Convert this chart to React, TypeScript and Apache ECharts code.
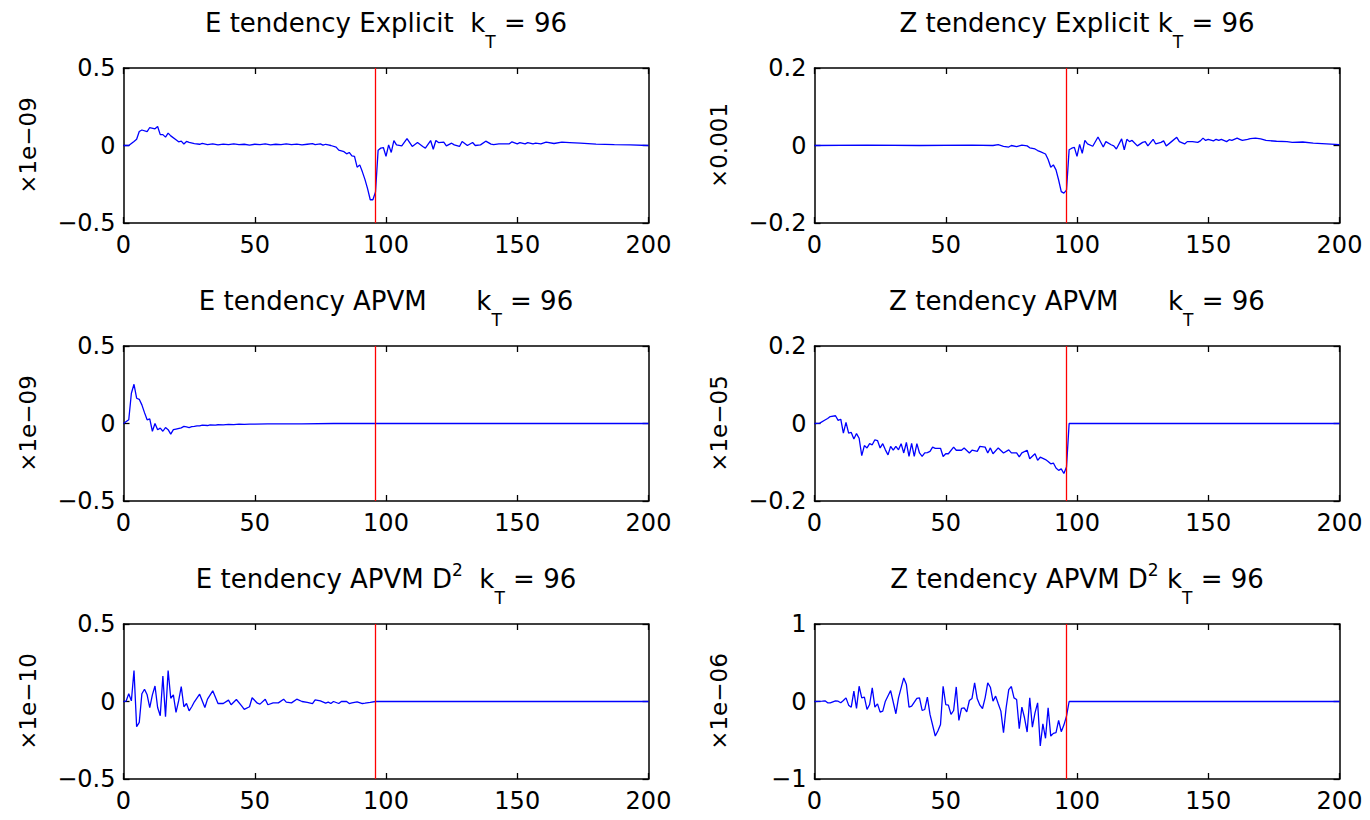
import React, { useEffect, useRef } from "react";
import * as echarts from "echarts";

const kT = 96;

const eExplicit: [number, number][] = [
  [0, 0], [2, 0], [4, 0.026], [5, 0.04], [6, 0.09], [7, 0.1], [9, 0.09], [10, 0.116], [12, 0.108], [13, 0.123],
  [14, 0.07], [15, 0.07], [16, 0.054], [17, 0.08], [18, 0.062], [20, 0.037], [21, 0.024], [22, 0.028], [23, 0.01],
  [24, 0.026], [25, 0.02], [27, 0.012], [29, 0.008], [30, 0.013], [32, 0.006], [34, 0.01], [36, 0.004], [38, 0.009],
  [40, 0.005], [42, 0.01], [44, 0.006], [46, 0.008], [48, 0.003], [50, 0.008], [52, 0.006], [54, 0.01], [56, 0.004],
  [58, 0.008], [60, 0.005], [62, 0.01], [64, 0.006], [66, 0.009], [68, 0.004], [70, 0.008], [72, 0.012], [73, 0.006],
  [75, 0.01], [76, 0.002], [77, 0.008], [78, 0.004], [79, 0], [81, -0.01], [82, -0.03], [84, -0.04], [85, -0.054],
  [86, -0.045], [87, -0.067], [88, -0.07], [89, -0.14], [90, -0.125], [91, -0.17], [92, -0.22], [93, -0.28],
  [94, -0.35], [95, -0.35], [96, -0.3], [97, -0.03], [98, -0.017], [99, -0.013], [100, -0.07], [101, 0.004],
  [102, -0.045], [103, 0.032], [104, 0.004], [106, -0.002], [108, 0.045], [110, -0.006], [112, 0.019], [114, -0.006],
  [115, -0.017], [117, 0.032], [118, -0.024], [119, 0.032], [120, 0.019], [122, 0.022], [123, -0.002], [125, 0.015],
  [126, 0.004], [128, -0.006], [129, 0.026], [131, 0], [133, 0.019], [134, 0], [136, 0.004], [138, 0.028],
  [140, 0.009], [141, 0.006], [143, 0.011], [145, 0.011], [147, 0.011], [148, 0.024], [150, 0.011], [151, 0.019],
  [153, 0.011], [154, 0.019], [156, 0.011], [157, 0.015], [159, 0.011], [161, 0.022], [164, 0.013], [167, 0.022],
  [170, 0.019], [174, 0.015], [180, 0.009], [187, 0.006], [193, 0.004], [200, 0],
];

const zExplicit: [number, number][] = [
  [0, 0], [20, 0.001], [40, 0], [60, 0.001], [68, 0], [70, 0.002], [72, -0.002], [74, -0.004], [75, 0], [77, -0.003],
  [79, 0.001], [81, -0.001], [82, -0.006], [84, -0.009], [85, -0.013], [86, -0.016], [88, -0.022], [89, -0.036],
  [90, -0.056], [91, -0.05], [92, -0.063], [93, -0.089], [94, -0.119], [95, -0.123], [96, -0.115], [97, -0.011],
  [98, -0.007], [99, -0.005], [100, -0.028], [101, 0.003], [102, -0.02], [103, 0.013], [104, 0.004], [106, -0.002],
  [108, 0.022], [110, -0.004], [111, 0.01], [113, 0.002], [114, -0.001], [115, -0.009], [117, 0.017], [118, -0.011],
  [119, 0.016], [120, 0.01], [121, 0.013], [123, -0.001], [125, 0.008], [126, 0.01], [127, -0.001], [129, 0.016],
  [130, 0.004], [132, 0.008], [133, 0.012], [134, -0.001], [136, 0.01], [138, 0.021], [139, 0.01], [141, 0.004],
  [142, 0.01], [144, 0.01], [146, 0.008], [147, 0.012], [148, 0.019], [149, 0.013], [150, 0.016], [152, 0.012],
  [153, 0.016], [154, 0.013], [155, 0.016], [157, 0.01], [158, 0.015], [159, 0.013], [161, 0.019], [162, 0.016],
  [163, 0.013], [165, 0.016], [166, 0.018], [168, 0.019], [170, 0.017], [172, 0.013], [176, 0.011], [180, 0.01],
  [182, 0.008], [186, 0.009], [190, 0.006], [195, 0.004], [200, 0.002],
];

const eApvm: [number, number][] = [
  [0, 0], [2, 0.024], [3, 0.195], [4, 0.253], [5, 0.163], [6, 0.156], [7, 0.12], [8, 0.07], [9, 0.024], [10, 0.03],
  [11, -0.05], [12, 0], [13, -0.04], [14, -0.03], [15, -0.05], [16, -0.026], [17, -0.04], [18, -0.068], [19, -0.04],
  [20, -0.036], [22, -0.028], [23, -0.019], [24, -0.022], [25, -0.026], [26, -0.02], [27, -0.019], [28, -0.015],
  [29, -0.015], [30, -0.011], [32, -0.013], [33, -0.009], [35, -0.011], [36, -0.008], [38, -0.009], [40, -0.006],
  [42, -0.007], [44, -0.004], [46, -0.006], [48, -0.004], [50, -0.004], [55, -0.002], [68, -0.002], [80, 0],
  [200, 0],
];

const zApvm: [number, number][] = [
  [0, 0], [2, 0.001], [4, 0.009], [5, 0.013], [6, 0.018], [8, 0.02], [9, 0.008], [10, 0.011], [11, -0.025],
  [12, 0.003], [13, -0.025], [14, -0.023], [15, -0.04], [16, -0.026], [17, -0.038], [18, -0.083], [19, -0.057],
  [20, -0.063], [21, -0.052], [22, -0.055], [23, -0.042], [24, -0.044], [25, -0.063], [26, -0.052], [27, -0.068],
  [28, -0.081], [29, -0.059], [30, -0.069], [31, -0.059], [32, -0.068], [33, -0.052], [34, -0.076], [35, -0.049],
  [36, -0.085], [37, -0.051], [38, -0.085], [39, -0.052], [40, -0.076], [41, -0.085], [42, -0.076], [43, -0.075],
  [44, -0.072], [45, -0.061], [46, -0.064], [48, -0.064], [49, -0.085], [50, -0.078], [51, -0.078], [53, -0.061],
  [54, -0.069], [56, -0.069], [57, -0.063], [59, -0.076], [60, -0.069], [62, -0.072], [63, -0.059], [65, -0.061],
  [66, -0.076], [67, -0.063], [68, -0.078], [70, -0.063], [72, -0.076], [74, -0.068], [75, -0.076], [77, -0.076],
  [78, -0.086], [79, -0.076], [81, -0.069], [82, -0.091], [84, -0.078], [85, -0.095], [86, -0.087], [88, -0.093],
  [89, -0.098], [90, -0.104], [91, -0.102], [92, -0.115], [93, -0.121], [94, -0.117], [95, -0.129], [96, -0.112],
  [97, 0], [200, 0],
];

const eApvmD2: [number, number][] = [
  [0, 0], [1, 0.003], [2, 0.05], [3, 0.004], [4, 0.2], [5, -0.163], [6, -0.135], [7, 0.05], [8, 0.079], [9, 0.043],
  [10, -0.039], [11, 0.043], [12, 0.1], [13, -0.039], [14, -0.092], [15, 0.165], [16, -0.098], [17, 0.2],
  [18, 0.021], [19, 0.043], [20, -0.07], [21, 0.004], [22, 0.096], [23, -0.034], [24, -0.013], [25, -0.06],
  [26, -0.034], [27, -0.002], [29, 0.047], [31, -0.039], [32, 0.015], [34, 0.069], [36, -0.013], [38, -0.013],
  [40, 0.009], [41, -0.021], [43, 0.013], [45, -0.028], [46, -0.051], [48, -0.034], [49, 0.024], [51, -0.011],
  [52, -0.017], [54, 0.015], [55, -0.021], [57, -0.009], [59, -0.009], [61, 0.015], [62, -0.004], [64, -0.009],
  [66, 0.015], [68, 0], [70, -0.006], [72, -0.013], [73, 0.011], [75, 0.004], [77, -0.011], [78, -0.004],
  [79, -0.013], [80, 0], [82, -0.013], [83, 0], [85, 0], [86, -0.013], [87, -0.009], [89, -0.002], [91, -0.013],
  [92, -0.011], [94, -0.006], [96, 0], [200, 0],
];

const zApvmD2: [number, number][] = [
  [0, 0], [3, 0.004], [4, 0.009], [5, -0.017], [6, -0.017], [8, 0.009], [9, 0.004], [10, -0.017], [11, 0.013],
  [12, 0.047], [13, -0.047], [14, -0.073], [15, 0.133], [16, -0.09], [17, 0.197], [18, 0.047], [19, 0.056],
  [20, -0.103], [21, -0.039], [22, 0.176], [23, -0.073], [24, -0.03], [25, -0.137], [26, -0.124], [27, 0.004],
  [29, 0.141], [31, -0.158], [32, 0.047], [34, 0.304], [35, 0.219], [36, -0.073], [37, -0.06], [39, 0.039],
  [40, 0.047], [41, -0.116], [42, -0.103], [43, 0.056], [44, -0.167], [46, -0.445], [47, -0.381], [48, -0.296],
  [49, 0.197], [50, -0.039], [51, -0.047], [52, -0.167], [53, -0.116], [54, 0.188], [55, -0.244], [56, -0.09],
  [57, -0.081], [58, -0.133], [59, 0.013], [60, 0.039], [61, 0.24], [62, 0.034], [63, -0.047], [64, -0.09],
  [65, 0.047], [66, 0.24], [67, 0.184], [68, 0.004], [69, 0.069], [70, -0.03], [71, -0.124], [72, -0.403],
  [73, -0.081], [74, 0.154], [75, 0.193], [76, 0.047], [77, 0.026], [78, -0.351], [79, -0.073], [80, -0.21],
  [81, -0.394], [82, 0.047], [83, -0.33], [84, -0.146], [85, -0.017], [86, -0.574], [87, -0.287], [88, -0.475],
  [89, -0.081], [90, -0.446], [91, -0.411], [92, -0.403], [93, -0.244], [94, -0.39], [95, -0.304], [96, -0.188],
  [97, 0], [200, 0],
];

const panelData = [eExplicit, zExplicit, eApvm, zApvm, eApvmD2, zApvmD2];
const yMins = [-0.5, -0.2, -0.5, -0.2, -0.5, -1];
const yMaxs = [0.5, 0.2, 0.5, 0.2, 0.5, 1];
const yIntervals = [0.5, 0.2, 0.5, 0.2, 0.5, 1];
const yNames = ["\u00d71e\u221209", "\u00d70.001", "\u00d71e\u221209", "\u00d71e\u221205", "\u00d71e\u221210", "\u00d71e\u221206"];
const xTicks = { min: 0, max: 200, interval: 50 };

// title pieces: [main before k, sup (optional), between]
const titleMain = [
  "{n|E tendency Explicit  k}{s|T}{n| = 96}",
  "{n|Z tendency Explicit k}{s|T}{n| = 96}",
  "{n|E tendency APVM      k}{s|T}{n| = 96}",
  "{n|Z tendency APVM      k}{s|T}{n| = 96}",
  "{n|E tendency APVM D}{p|2}{n|  k}{s|T}{n| = 96}",
  "{n|Z tendency APVM D}{p|2}{n| k}{s|T}{n| = 96}",
];

const FONT = "DejaVu Sans";
const colLefts = [123.5, 814.5];
const rowTops = [68, 346, 624];
const plotW = 525;
const plotH = 155;

function fmtY(v: number): string {
  if (Math.abs(v) < 1e-9) return "0";
  const s = String(Number(Math.abs(v).toFixed(4)));
  return v < 0 ? "\u2212" + s : s;
}

export default function App() {
  const ref = useRef<HTMLDivElement>(null);
  useEffect(() => {
    if (!ref.current) return;
    const chart = echarts.init(ref.current, undefined, { renderer: "svg" });
    const grids: any[] = [];
    const xAxes: any[] = [];
    const yAxes: any[] = [];
    const series: any[] = [];
    const graphics: any[] = [];
    const axisLine = { show: true, onZero: false, lineStyle: { color: "#000", width: 1.5 } };
    const tick = { show: true, inside: true, length: 6, lineStyle: { color: "#000", width: 1.3 } };
    for (let i = 0; i < 6; i++) {
      const col = i % 2;
      const row = Math.floor(i / 2);
      grids.push({ left: colLefts[col], top: rowTops[row], width: plotW, height: plotH, containLabel: false });
      xAxes.push({
        type: "value", gridIndex: i, position: "bottom", ...xTicks,
        axisLine, axisTick: tick, splitLine: { show: false },
        axisLabel: { show: true, margin: 10, fontFamily: FONT, fontSize: 24, color: "#000" },
      });
      xAxes.push({
        type: "value", gridIndex: i, position: "top", ...xTicks,
        axisLine, axisTick: tick, splitLine: { show: false }, axisLabel: { show: false },
      });
      yAxes.push({
        type: "value", gridIndex: i, position: "left",
        min: yMins[i], max: yMaxs[i], interval: yIntervals[i],
        axisLine, axisTick: tick, splitLine: { show: false },
        axisLabel: { show: true, margin: 8, fontFamily: FONT, fontSize: 24, color: "#000", formatter: fmtY },
        name: yNames[i], nameLocation: "middle", nameRotate: 90, nameGap: 84,
        nameTextStyle: { fontFamily: FONT, fontSize: 23, color: "#000" },
      });
      yAxes.push({
        type: "value", gridIndex: i, position: "right",
        min: yMins[i], max: yMaxs[i], interval: yIntervals[i],
        axisLine, axisTick: tick, splitLine: { show: false }, axisLabel: { show: false },
      });
      series.push({
        type: "line", xAxisIndex: 2 * i, yAxisIndex: 2 * i, data: panelData[i],
        showSymbol: false, symbol: "none", silent: true,
        lineStyle: { color: "#0000ff", width: 1.3 },
        markLine: {
          silent: true, symbol: ["none", "none"], label: { show: false },
          lineStyle: { color: "#ff0000", width: 1.3, type: "solid" },
          data: [{ xAxis: kT }],
        },
      });
      graphics.push({
        type: "text",
        x: colLefts[col] + plotW / 2,
        y: rowTops[row] - 63,
        style: {
          text: titleMain[i],
          align: "center",
          verticalAlign: "top",
          fill: "#000",
          rich: {
            n: { fontFamily: FONT, fontSize: 26, fill: "#000", verticalAlign: "top", padding: [5, 0, 0, 0] },
            s: { fontFamily: FONT, fontSize: 17, fill: "#000", verticalAlign: "top", padding: [28, 0, 0, 0] },
            p: { fontFamily: FONT, fontSize: 17, fill: "#000", verticalAlign: "top", padding: [0, 0, 0, 0] },
          },
        },
      });
    }
    chart.setOption({
      animation: false,
      backgroundColor: "#fff",
      grid: grids,
      xAxis: xAxes,
      yAxis: yAxes,
      series,
      graphic: graphics,
    });
    return () => chart.dispose();
  }, []);
  return (
    <div
      ref={ref}
      style={{ position: "absolute", left: 0, top: 0, width: 1370, height: 820, background: "#fff" }}
    />
  );
}
